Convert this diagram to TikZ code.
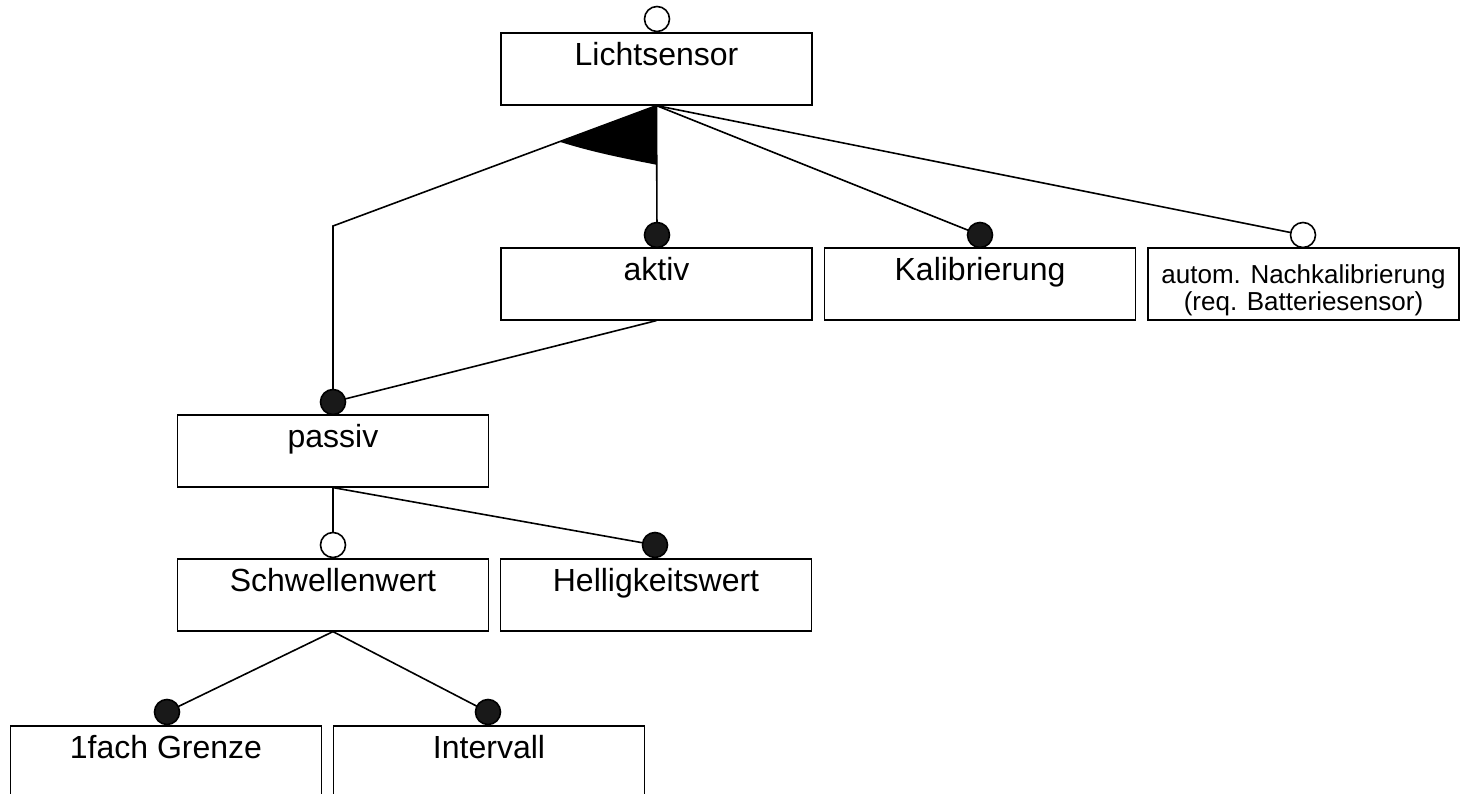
\documentclass[tikz,border=0pt]{standalone}
\usepackage{fontspec}
\setmainfont{Liberation Sans}
\usetikzlibrary{calc}
\begin{document}
\begin{tikzpicture}[x=1pt,y=-1pt,
  line width=1.6pt,
  feature/.style={draw,rectangle,minimum width=311pt,minimum height=72pt,inner sep=0pt,anchor=north},
  ftext/.style={anchor=base,inner sep=0pt,font=\fontsize{32}{36}\selectfont},
  stext/.style={anchor=base,inner sep=0pt,align=center,font=\fontsize{26}{26.5}\selectfont},
  mand/.style={draw,circle,fill=black!90,minimum size=25pt,inner sep=0pt},
  opt/.style={draw,circle,fill=white,minimum size=25pt,inner sep=0pt},
  link/.style={line width=1.6pt}]
\clip (0,0) rectangle (1461,794);
\useasboundingbox (0,0) rectangle (1461,794);

% feature boxes
\node[feature] (licht) at (656.5,32) {};
\node[feature] (aktiv) at (656.5,247) {};
\node[feature] (kalib) at (980,247) {};
\node[feature] (nach) at (1303.5,247) {};
\node[feature] (passiv) at (333,414) {};
\node[feature] (schw) at (333,558) {};
\node[feature] (hell) at (656,558) {};
\node[feature] (grenze) at (166,725) {};
\node[feature] (interv) at (489,725) {};

% labels
\node[ftext] (licht-t) at (656.5,65.5) {Lichtsensor};
\node[ftext] (aktiv-t) at (656.5,280.5) {aktiv};
\node[ftext] (kalib-t) at (980,280.5) {Kalibrierung};
\node[stext] (nach-t) at (1303.5,310) {autom. Nachkalibrierung\\(req. Batteriesensor)};
\node[ftext] (passiv-t) at (333,447.5) {passiv};
\node[ftext] (schw-t) at (333,591.5) {Schwellenwert};
\node[ftext] (hell-t) at (656,591.5) {Helligkeitswert};
\node[ftext] (grenze-t) at (166,758.5) {1fach Grenze};
\node[ftext] (interv-t) at (489,758.5) {Intervall};

% connector ends
\coordinate (bend) at (333,226);
\coordinate (c-licht) at (657,19);
\coordinate (c-aktiv) at (657,235);
\coordinate (c-kalib) at (980,235);
\coordinate (c-nach) at (1303,235);
\coordinate (c-passiv) at (333,402);
\coordinate (c-schw) at (333,545);
\coordinate (c-hell) at (655,545);
\coordinate (c-grenze) at (167,712);
\coordinate (c-interv) at (488,712);

% alternative group wedge
\fill ($(licht.south)!0.3!(bend)$) .. controls (592,152) and (622,158) .. ($(licht.south)!0.4576!(c-aktiv)$)
  -- (licht.south) -- cycle;

% connectors
\draw[link] (licht.south) -- (bend) -- (c-passiv);
\draw[link] (licht.south) -- (c-aktiv);
\draw[link] (licht.south) -- (c-kalib);
\draw[link] (licht.south) -- (c-nach);
\draw[link] (aktiv.south) -- (c-passiv);
\draw[link] (passiv.south) -- (c-schw);
\draw[link] (passiv.south) -- (c-hell);
\draw[link] (schw.south) -- (c-grenze);
\draw[link] (schw.south) -- (c-interv);

% feature markers
\node[opt] (m-licht) at (c-licht) {};
\node[mand] (m-aktiv) at (c-aktiv) {};
\node[mand] (m-kalib) at (c-kalib) {};
\node[opt] (m-nach) at (c-nach) {};
\node[mand] (m-passiv) at (c-passiv) {};
\node[opt] (m-schw) at (c-schw) {};
\node[mand] (m-hell) at (c-hell) {};
\node[mand] (m-grenze) at (c-grenze) {};
\node[mand] (m-interv) at (c-interv) {};
\end{tikzpicture}
\end{document}
